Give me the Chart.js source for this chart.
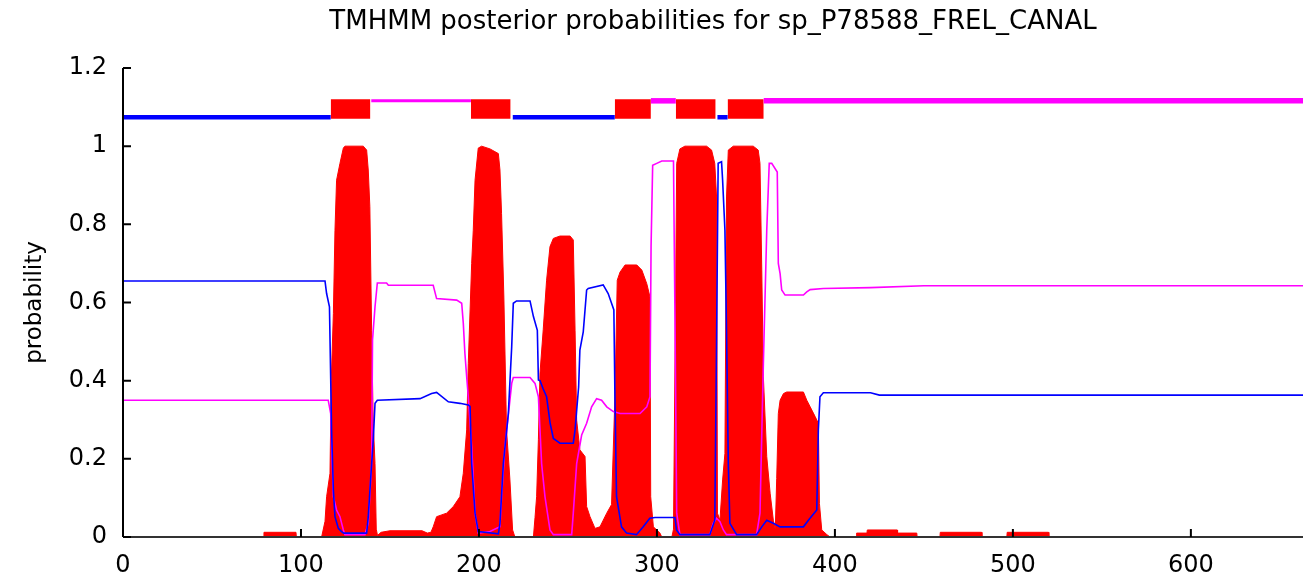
<!DOCTYPE html>
<html>
<head>
<meta charset="utf-8">
<script src="https://cdn.jsdelivr.net/npm/chart.js@4/dist/chart.umd.min.js"></script>
<style>
  html, body { margin: 0; padding: 0; background: #fff; }
  #wrap { width: 1303px; height: 577px; }
</style>
</head>
<body>
<div id="wrap"><canvas id="chart"></canvas></div>
<script>
const title = 'TMHMM posterior probabilities for sp_P78588_FREL_CANAL'

// inside probability (blue)
const inPos = [0, 113.5, 114.4, 116, 117.2, 118.2, 119.1, 121, 122.8, 124, 136.9, 137.8, 139.1, 140.6, 141.6, 142.9, 166.9, 173.4, 176.2, 182.8, 189.3, 194, 195, 195.9, 197.8, 199.6, 210.9, 211.8, 213.7, 216.5, 218.4, 219.3, 221.1, 228.7, 230.6, 232.8, 233.4, 234.3, 236, 238, 240, 241.8, 245.5, 253, 254, 256, 256.7, 258.6, 260.5, 261.4, 269.8, 272.6, 274.5, 275.8, 276.4, 277.3, 280.1, 282.9, 288.5, 292.3, 296, 298.9, 310.1, 311, 312.9, 329.7, 332.5, 333.5, 334.4, 336.3, 336.9, 338.2, 339.1, 340.1, 341, 344.8, 356, 358.9, 361.7, 365.4, 369.2, 382.3, 385.1, 389.8, 390.7, 391.6, 393.5, 420, 425, 663]
const inProb = [0.655, 0.655, 0.623, 0.589, 0.274, 0.12, 0.052, 0.022, 0.014, 0.01, 0.01, 0.052, 0.146, 0.248, 0.342, 0.35, 0.354, 0.367, 0.37, 0.346, 0.342, 0.338, 0.334, 0.188, 0.061, 0.014, 0.008, 0.035, 0.188, 0.316, 0.487, 0.598, 0.604, 0.604, 0.564, 0.529, 0.402, 0.4, 0.38, 0.359, 0.291, 0.252, 0.24, 0.24, 0.274, 0.384, 0.478, 0.525, 0.632, 0.636, 0.645, 0.623, 0.598, 0.581, 0.359, 0.103, 0.026, 0.01, 0.006, 0.026, 0.048, 0.05, 0.05, 0.018, 0.006, 0.006, 0.043, 0.5, 0.956, 0.96, 0.913, 0.785, 0.529, 0.188, 0.035, 0.006, 0.006, 0.026, 0.043, 0.035, 0.026, 0.026, 0.043, 0.069, 0.274, 0.359, 0.369, 0.369, 0.363, 0.363]

// outside probability (magenta)
const outPos = [0, 115.3, 116.7, 117.2, 118.2, 120, 121.9, 123.8, 124.7, 135.9, 137.8, 139.7, 140.2, 141.6, 142.9, 148.1, 149.1, 174.3, 176.2, 187.5, 190.3, 191.2, 192.1, 193.1, 194, 195.9, 197.8, 199.6, 206.2, 211.8, 212.7, 214.6, 218.4, 219.3, 228.7, 231.5, 233.4, 235.2, 237.1, 239.9, 241.8, 252.1, 253, 254.9, 257.7, 260.5, 263.3, 266.1, 268.9, 271.8, 275.5, 279.3, 290.5, 294.3, 296.1, 296.7, 297.6, 299.9, 302.7, 309.3, 310.2, 311.1, 312.9, 329.7, 331.6, 333.5, 335.4, 337.3, 339.1, 356, 357.9, 359.8, 361.7, 363.1, 364.5, 367.6, 368.2, 369.2, 370.1, 372, 382.3, 384.2, 386.1, 393.5, 420, 450, 663]
const outProb = [0.35, 0.35, 0.316, 0.231, 0.103, 0.069, 0.052, 0.018, 0.006, 0.006, 0.035, 0.188, 0.504, 0.589, 0.65, 0.65, 0.644, 0.644, 0.61, 0.606, 0.598, 0.547, 0.47, 0.41, 0.359, 0.231, 0.061, 0.01, 0.014, 0.026, 0.103, 0.231, 0.393, 0.408, 0.408, 0.393, 0.359, 0.188, 0.103, 0.018, 0.006, 0.006, 0.061, 0.188, 0.261, 0.291, 0.333, 0.354, 0.35, 0.333, 0.321, 0.316, 0.316, 0.333, 0.359, 0.743, 0.951, 0.956, 0.962, 0.962, 0.529, 0.061, 0.006, 0.006, 0.035, 0.048, 0.039, 0.018, 0.006, 0.006, 0.061, 0.444, 0.785, 0.956, 0.956, 0.934, 0.7, 0.674, 0.632, 0.619, 0.619, 0.627, 0.633, 0.636, 0.638, 0.643, 0.643]

// transmembrane probability (red, filled)
const tmPos = [0, 79, 79.2, 97.2, 97.4, 111.6, 113.5, 114.4, 116.3, 117, 118.2, 119.1, 120, 121.9, 123.8, 124.7, 135, 136.9, 137.8, 138.7, 139.7, 140.6, 141.6, 142.3, 143, 145, 150, 168, 171, 173, 174.3, 176.2, 181.8, 185.6, 189.3, 191.2, 193.1, 194, 195.9, 196.8, 197.8, 199.6, 201.5, 206.2, 210.9, 211.8, 212.7, 214, 215.5, 217.4, 218.9, 220.2, 230.6, 231.5, 232.4, 233.4, 234.3, 236.1, 238, 239.9, 241.8, 245.5, 251.2, 253, 254, 254.9, 256.7, 259.6, 260.5, 262.4, 265.2, 268, 271.8, 274.5, 276.4, 277.7, 279.3, 282.1, 288.7, 291.5, 294.3, 296.1, 296.5, 298, 301.7, 302.7, 308.4, 309.3, 310.2, 311.1, 312.9, 315.7, 327.9, 330.7, 332.5, 333.5, 334, 335.4, 336.9, 338.2, 339.1, 340.1, 342.9, 354.1, 356.9, 357.9, 358.9, 359.8, 361.7, 363.6, 365.4, 366.5, 367.3, 368.2, 369.2, 371.1, 372.9, 382.3, 384.2, 386.1, 388.9, 390.7, 391.3, 392.6, 395.5, 397.3, 412, 412.2, 418, 418.2, 435, 435.2, 446, 446.2, 459, 459.2, 482.4, 482.6, 496.6, 496.8, 520, 520.2, 663]
const tmProb = [0, 0, 0.012, 0.012, 0, 0, 0.04, 0.103, 0.163, 0.4, 0.572, 0.785, 0.913, 0.956, 0.995, 1, 1, 0.99, 0.939, 0.845, 0.529, 0.291, 0.188, 0.02, 0.004, 0.012, 0.016, 0.016, 0.01, 0.012, 0.026, 0.052, 0.061, 0.078, 0.103, 0.163, 0.274, 0.444, 0.7, 0.785, 0.913, 0.995, 1, 0.993, 0.981, 0.939, 0.828, 0.614, 0.274, 0.146, 0.018, 0, 0, 0.05, 0.103, 0.25, 0.42, 0.53, 0.657, 0.743, 0.764, 0.77, 0.77, 0.76, 0.529, 0.299, 0.223, 0.206, 0.078, 0.052, 0.022, 0.026, 0.061, 0.083, 0.359, 0.657, 0.678, 0.696, 0.696, 0.683, 0.648, 0.614, 0.103, 0.026, 0.01, 0, 0, 0.02, 0.478, 0.956, 0.993, 1, 1, 0.99, 0.956, 0.87, 0.061, 0.043, 0.146, 0.214, 0.87, 0.99, 1, 1, 0.99, 0.956, 0.683, 0.41, 0.206, 0.112, 0.043, 0.02, 0.15, 0.316, 0.35, 0.367, 0.371, 0.371, 0.35, 0.333, 0.308, 0.291, 0.086, 0.018, 0.006, 0, 0, 0.01, 0.01, 0.018, 0.018, 0.01, 0.01, 0, 0, 0.012, 0.012, 0, 0, 0.012, 0.012, 0]

// predicted topology bar along the top
const insideSegs = [[0, 116.7], [219, 276.3], [334, 339.7]]
const outsideSegs = [[139.5, 195.5], [296.6, 310.6], [360, 663]]
const tmSegs = [[116.7, 139], [195.5, 217.8], [276.3, 296.6], [310.6, 333], [339.7, 360]]
const topIn = 1.074
const topOut = 1.116
const boxTop = 1.12
const boxBottom = 1.07

const pts = (xs, ys) => xs.map((x, i) => ({ x, y: ys[i] }))

const datasets = [
  { data: pts(inPos, inProb), borderColor: '#0000ff', borderWidth: 1.6 },
  { data: pts(outPos, outProb), borderColor: '#ff00ff', borderWidth: 1.6 },
  { data: pts(tmPos, tmProb), borderColor: '#ff0000', borderWidth: 1, backgroundColor: '#ff0000', fill: 'origin' }
]
insideSegs.forEach(s => datasets.push({
  data: [{ x: s[0], y: topIn }, { x: s[1], y: topIn }],
  borderColor: '#0000ff', borderWidth: 4.5
}))
outsideSegs.forEach((s, i) => datasets.push({
  data: [{ x: s[0], y: topOut }, { x: s[1], y: topOut }],
  borderColor: '#ff00ff', borderWidth: i === 0 ? 3 : 5.5
}))
tmSegs.forEach(s => datasets.push({
  data: [{ x: s[0], y: boxTop }, { x: s[1], y: boxTop }],
  borderColor: '#ff0000', borderWidth: 0, backgroundColor: '#ff0000', fill: { value: boxBottom }
}))
datasets.forEach(d => { d.pointRadius = 0; d.tension = 0; d.borderCapStyle = 'butt' })

const frame = {
  id: 'frame',
  afterDatasetsDraw (chart) {
    const { ctx, chartArea: a, scales: { x, y } } = chart
    ctx.save()
    ctx.lineWidth = 2
    ctx.strokeStyle = '#333'
    ctx.beginPath()
    ctx.moveTo(a.left, a.bottom)
    ctx.lineTo(a.right, a.bottom)
    ctx.stroke()
    ctx.strokeStyle = '#000'
    ctx.beginPath()
    ctx.moveTo(a.left, a.bottom)
    ctx.lineTo(a.left, a.top)
    x.ticks.forEach(t => {
      const px = x.getPixelForValue(t.value)
      ctx.moveTo(px, a.bottom)
      ctx.lineTo(px, a.bottom - 8)
    })
    y.ticks.forEach(t => {
      const py = y.getPixelForValue(t.value)
      ctx.moveTo(a.left, py)
      ctx.lineTo(a.left + 8, py)
    })
    ctx.stroke()
    ctx.fillStyle = '#000'
    ctx.font = '26px "DejaVu Sans"'
    ctx.textAlign = 'center'
    ctx.textBaseline = 'middle'
    ctx.fillText(title, (a.left + a.right) / 2, 22)
    ctx.restore()
  }
}

Chart.defaults.color = '#000'
Chart.defaults.font.family = '"DejaVu Sans", sans-serif'

new Chart(document.getElementById('chart'), {
  type: 'line',
  data: { datasets },
  options: {
    responsive: true,
    maintainAspectRatio: false,
    animation: false,
    layout: { padding: { top: 68, right: 0, bottom: 0, left: 0 } },
    plugins: { legend: { display: false }, tooltip: { enabled: false } },
    scales: {
      x: {
        type: 'linear',
        min: 0,
        max: 663,
        grid: { display: false },
        border: { display: false },
        ticks: { stepSize: 100, font: { size: 24 }, padding: 6, maxRotation: 0 },
        afterBuildTicks: s => { s.ticks = s.ticks.filter(t => t.value % 100 === 0) },
        afterFit: s => { s.height = 40 }
      },
      y: {
        min: 0,
        max: 1.2,
        grid: { display: false },
        border: { display: false },
        ticks: { stepSize: 0.2, font: { size: 24 }, padding: 8, callback: v => String(Math.round(v * 10) / 10) },
        title: { display: true, text: 'probability', font: { size: 23 }, padding: { top: 21, bottom: 0 } },
        afterFit: s => { s.width = 123 }
      }
    }
  },
  plugins: [frame]
})
</script>
</body>
</html>
